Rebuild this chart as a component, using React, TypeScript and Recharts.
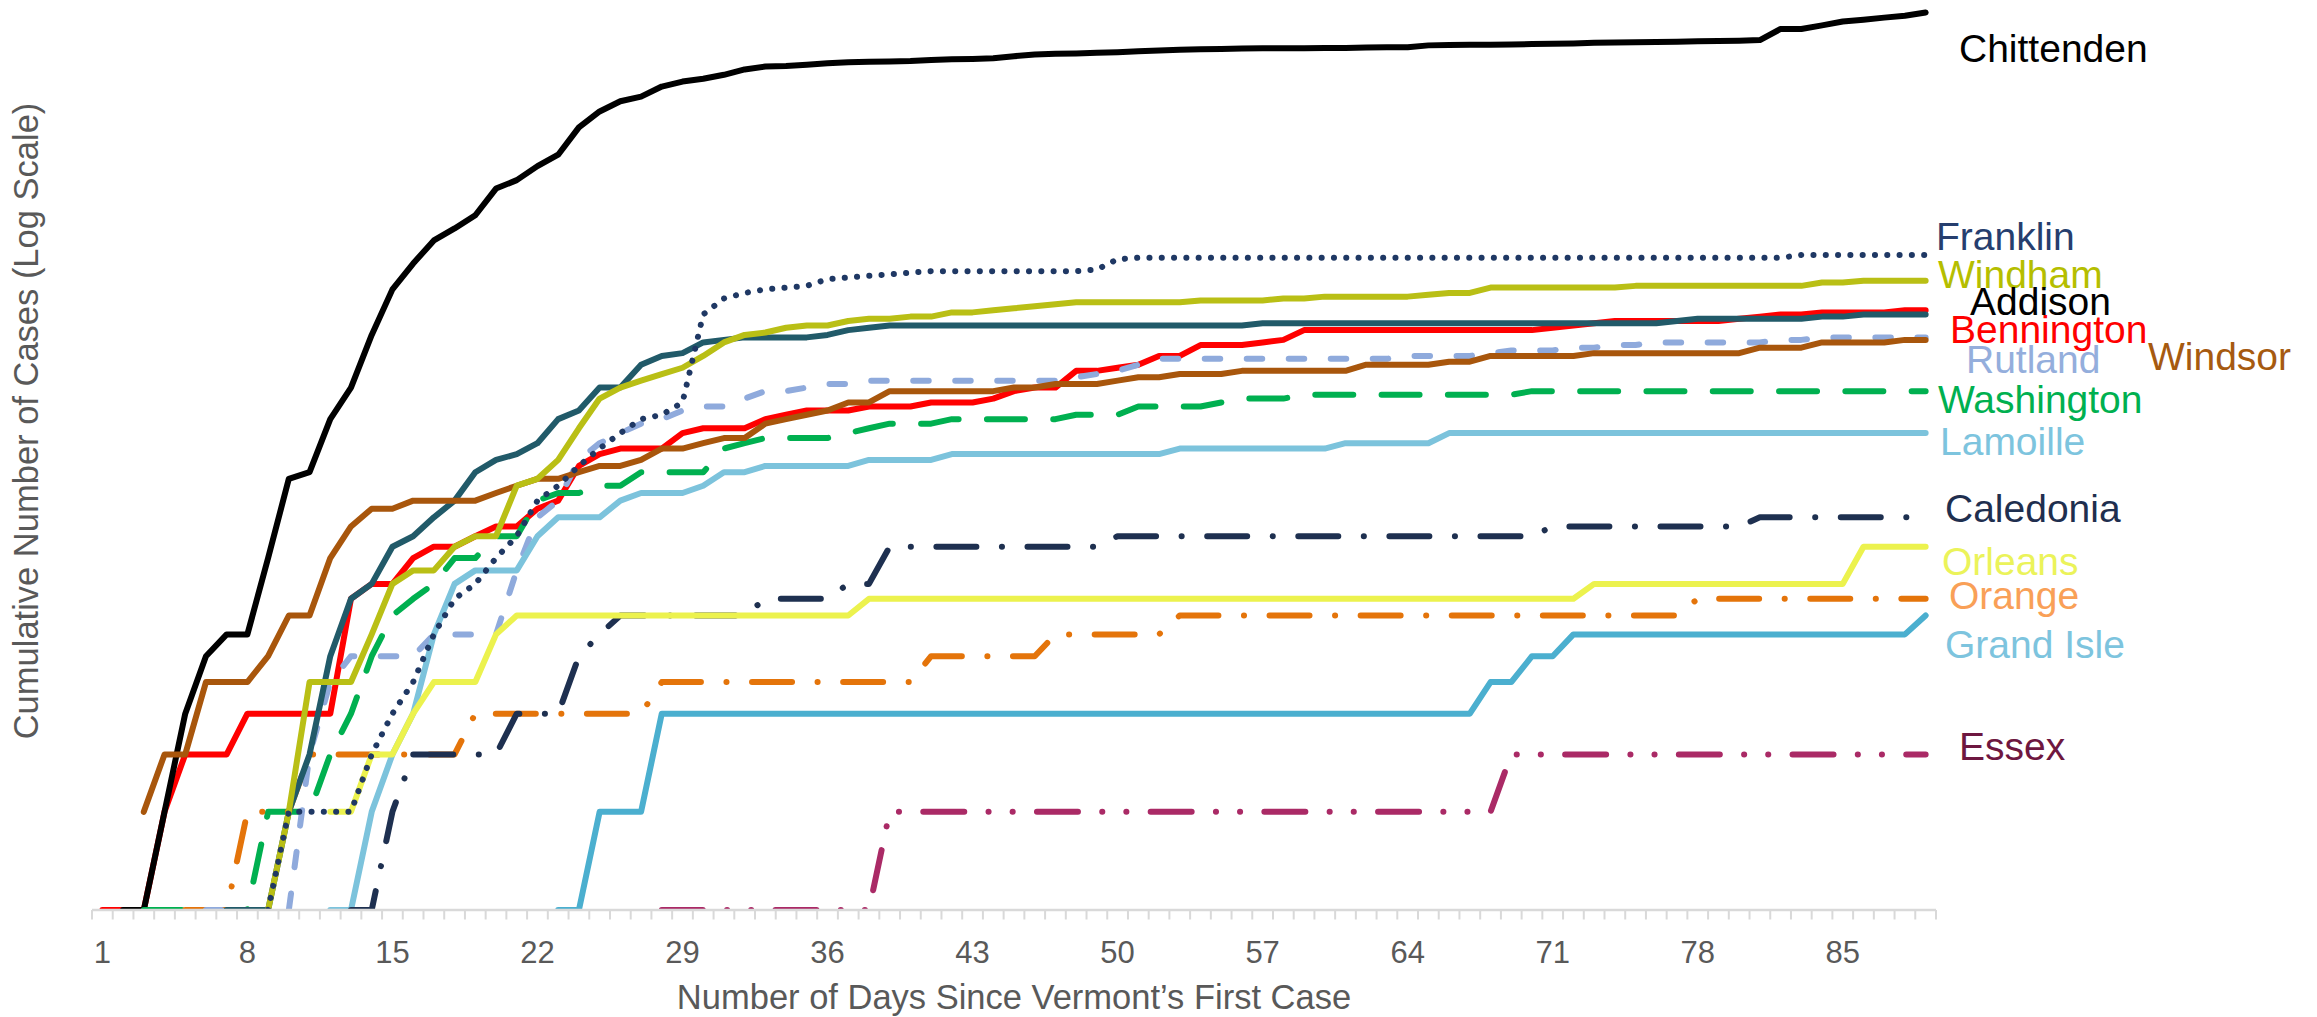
import React from 'react';
import { LineChart, Line, XAxis, YAxis } from 'recharts';

const days = [
  1, 2, 3, 4, 5, 6, 7, 8, 9, 10, 11, 12, 13, 14, 15, 16, 17, 18, 19, 20,
  21, 22, 23, 24, 25, 26, 27, 28, 29, 30, 31, 32, 33, 34, 35, 36, 37, 38, 39, 40,
  41, 42, 43, 44, 45, 46, 47, 48, 49, 50, 51, 52, 53, 54, 55, 56, 57, 58, 59, 60,
  61, 62, 63, 64, 65, 66, 67, 68, 69, 70, 71, 72, 73, 74, 75, 76, 77, 78, 79, 80,
  81, 82, 83, 84, 85, 86, 87, 88, 89,
];
const tickLabels = [1, 8, 15, 22, 29, 36, 43, 50, 57, 64, 71, 78, 85];

const bennington = [
  1, 1, 1, 2, 3, 3, 3, 4, 4, 4,
  4, 4, 9, 10, 10, 12, 13, 13, 14, 15,
  15, 17, 18, 23, 25, 26, 26, 26, 29, 30,
  30, 30, 32, 33, 34, 34, 34, 35, 35, 35,
  36, 36, 36, 37, 39, 40, 40, 45, 45, 46,
  47, 50, 50, 54, 54, 54, 55, 56, 60, 60,
  60, 60, 60, 60, 60, 60, 60, 60, 60, 60,
  61, 62, 63, 64, 64, 64, 64, 64, 64, 65,
  66, 67, 67, 68, 68, 68, 68, 69, 69,
];
const chittenden = [
  null, 1, 1, 2, 4, 6, 7, 7, 12, 21,
  22, 32, 40, 58, 80, 96, 113, 123, 135, 163,
  173, 191, 207, 251, 281, 302, 312, 335, 347, 354,
  364, 378, 386, 387, 391, 395, 398, 399, 400, 401,
  404, 406, 407, 409, 415, 420, 422, 423, 425, 427,
  430, 432, 434, 436, 437, 438, 439, 439, 439, 440,
  440, 441, 442, 442, 448, 449, 450, 450, 451, 452,
  453, 454, 456, 457, 458, 459, 460, 461, 462, 463,
  465, 503, 503, 516, 530, 537, 545, 552, 565,
];
const addison = [
  null, null, null, null, null, null, 1, 1, 1, 2,
  3, 6, 9, 10, 13, 14, 16, 18, 22, 24,
  25, 27, 32, 34, 40, 40, 47, 50, 51, 55,
  56, 57, 57, 57, 57, 58, 60, 61, 62, 62,
  62, 62, 62, 62, 62, 62, 62, 62, 62, 62,
  62, 62, 62, 62, 62, 62, 63, 63, 63, 63,
  63, 63, 63, 63, 63, 63, 63, 63, 63, 63,
  63, 63, 63, 63, 63, 63, 64, 65, 65, 65,
  65, 65, 65, 66, 66, 67, 67, 67, 67,
];
const windham = [
  null, null, null, null, null, null, null, null, 1, 2,
  5, 5, 5, 7, 10, 11, 11, 13, 14, 14,
  20, 21, 24, 30, 37, 40, 42, 44, 46, 50,
  55, 58, 59, 61, 62, 62, 64, 65, 65, 66,
  66, 68, 68, 69, 70, 71, 72, 73, 73, 73,
  73, 73, 73, 74, 74, 74, 74, 75, 75, 76,
  76, 76, 76, 76, 77, 78, 78, 81, 81, 81,
  81, 81, 81, 81, 82, 82, 82, 82, 82, 82,
  82, 82, 82, 84, 84, 85, 85, 85, 85,
];
const franklin = [
  null, null, null, null, null, null, null, null, 1, 2,
  2, 2, 2, 3, 4, 5, 7, 9, 10, 12,
  14, 18, 20, 23, 26, 29, 32, 33, 36, 67,
  75, 78, 80, 81, 82, 86, 87, 88, 89, 90,
  91, 91, 91, 91, 91, 91, 91, 91, 92, 99,
  100, 100, 100, 100, 100, 100, 100, 100, 100, 100,
  100, 100, 100, 100, 100, 100, 100, 100, 100, 100,
  100, 100, 100, 100, 100, 100, 100, 100, 100, 100,
  100, 100, 102, 102, 102, 102, 102, 102, 102,
];
const washington = [
  null, null, 1, 1, 1, 1, 1, 1, 2, 2,
  2, 3, 4, 6, 8, 9, 10, 12, 12, 14,
  14, 18, 19, 19, 20, 20, 22, 22, 22, 22,
  26, 27, 28, 28, 28, 28, 29, 30, 31, 31,
  31, 32, 32, 32, 32, 32, 32, 33, 33, 33,
  35, 35, 35, 35, 36, 37, 37, 37, 38, 38,
  38, 38, 38, 38, 38, 38, 38, 38, 38, 39,
  39, 39, 39, 39, 39, 39, 39, 39, 39, 39,
  39, 39, 39, 39, 39, 39, 39, 39, 39,
];
const orange = [
  null, null, null, null, 1, 1, 1, 2, 2, 2,
  3, 3, 3, 3, 3, 3, 3, 3, 4, 4,
  4, 4, 4, 4, 4, 4, 4, 5, 5, 5,
  5, 5, 5, 5, 5, 5, 5, 5, 5, 5,
  6, 6, 6, 6, 6, 6, 7, 7, 7, 7,
  7, 7, 8, 8, 8, 8, 8, 8, 8, 8,
  8, 8, 8, 8, 8, 8, 8, 8, 8, 8,
  8, 8, 8, 8, 8, 8, 8, 9, 9, 9,
  9, 9, 9, 9, 9, 9, 9, 9, 9,
];
const rutland = [
  null, null, null, null, null, 1, 1, 1, 1, 1,
  3, 5, 6, 6, 6, 6, 7, 7, 7, 7,
  11, 16, 18, 24, 27, 29, 31, 32, 34, 35,
  35, 37, 39, 39, 40, 41, 41, 42, 42, 42,
  42, 42, 42, 42, 42, 42, 42, 43, 44, 45,
  47, 49, 49, 49, 49, 49, 49, 49, 49, 49,
  49, 49, 49, 50, 50, 50, 50, 51, 52, 52,
  52, 53, 53, 54, 54, 55, 55, 55, 55, 55,
  55, 56, 56, 57, 57, 57, 57, 57, 57,
];
const windsor = [
  null, null, 2, 3, 3, 5, 5, 5, 6, 8,
  8, 12, 15, 17, 17, 18, 18, 18, 18, 19,
  20, 21, 21, 22, 23, 23, 24, 26, 26, 27,
  28, 28, 31, 32, 33, 34, 36, 36, 39, 39,
  39, 39, 39, 39, 40, 40, 41, 41, 41, 42,
  43, 43, 44, 44, 44, 45, 45, 45, 45, 45,
  45, 47, 47, 47, 47, 48, 48, 50, 50, 50,
  50, 50, 51, 51, 51, 51, 51, 51, 51, 51,
  53, 53, 53, 55, 55, 55, 55, 56, 56,
];
const lamoille = [
  null, null, null, null, null, null, null, null, null, null,
  null, 1, 1, 2, 3, 4, 7, 10, 11, 11,
  11, 14, 16, 16, 16, 18, 19, 19, 19, 20,
  22, 22, 23, 23, 23, 23, 23, 24, 24, 24,
  24, 25, 25, 25, 25, 25, 25, 25, 25, 25,
  25, 25, 26, 26, 26, 26, 26, 26, 26, 26,
  27, 27, 27, 27, 27, 29, 29, 29, 29, 29,
  29, 29, 29, 29, 29, 29, 29, 29, 29, 29,
  29, 29, 29, 29, 29, 29, 29, 29, 29,
];
const caledonia = [
  null, null, null, null, null, null, null, null, null, null,
  null, null, 1, 1, 2, 3, 3, 3, 3, 3,
  4, 4, 4, 6, 7, 8, 8, 8, 8, 8,
  8, 8, 9, 9, 9, 9, 10, 10, 13, 13,
  13, 13, 13, 13, 13, 13, 13, 13, 13, 14,
  14, 14, 14, 14, 14, 14, 14, 14, 14, 14,
  14, 14, 14, 14, 14, 14, 14, 14, 14, 14,
  15, 15, 15, 15, 15, 15, 15, 15, 15, 15,
  16, 16, 16, 16, 16, 16, 16, 16, 16,
];
const orleans = [
  null, null, null, null, null, null, null, null, null, null,
  null, 2, 2, 3, 3, 4, 5, 5, 5, 7,
  8, 8, 8, 8, 8, 8, 8, 8, 8, 8,
  8, 8, 8, 8, 8, 8, 8, 9, 9, 9,
  9, 9, 9, 9, 9, 9, 9, 9, 9, 9,
  9, 9, 9, 9, 9, 9, 9, 9, 9, 9,
  9, 9, 9, 9, 9, 9, 9, 9, 9, 9,
  9, 9, 10, 10, 10, 10, 10, 10, 10, 10,
  10, 10, 10, 10, 10, 13, 13, 13, 13,
];
const grandIsle = [
  null, null, null, null, null, null, null, null, null, null,
  null, null, null, null, null, null, null, null, null, null,
  null, null, 1, 1, 2, 2, 2, 4, 4, 4,
  4, 4, 4, 4, 4, 4, 4, 4, 4, 4,
  4, 4, 4, 4, 4, 4, 4, 4, 4, 4,
  4, 4, 4, 4, 4, 4, 4, 4, 4, 4,
  4, 4, 4, 4, 4, 4, 4, 5, 5, 6,
  6, 7, 7, 7, 7, 7, 7, 7, 7, 7,
  7, 7, 7, 7, 7, 7, 7, 7, 8,
];
const essex = [
  null, null, null, null, null, null, null, null, null, null,
  null, null, null, null, null, null, null, null, null, null,
  null, null, null, null, null, null, null, 1, 1, 1,
  1, 1, 1, 1, 1, 1, 1, 1, 2, 2,
  2, 2, 2, 2, 2, 2, 2, 2, 2, 2,
  2, 2, 2, 2, 2, 2, 2, 2, 2, 2,
  2, 2, 2, 2, 2, 2, 2, 2, 3, 3,
  3, 3, 3, 3, 3, 3, 3, 3, 3, 3,
  3, 3, 3, 3, 3, 3, 3, 3, 3,
];

const seriesValues: Record<string, (number | null)[]> = {
  bennington, chittenden, washington, orange, rutland, addison, windsor,
  lamoille, caledonia, orleans, grandIsle, essex, windham, franklin,
};

const data = days.map((d, i) => {
  const row: Record<string, number | null> = { day: d };
  Object.keys(seriesValues).forEach((k) => {
    row[k] = seriesValues[k][i];
  });
  return row;
});

// drawing order (later = on top)
const series = [
  { key: 'bennington', color: '#FF0000', dash: undefined },
  { key: 'chittenden', color: '#000000', dash: undefined },
  { key: 'washington', color: '#00B050', dash: '38 28.3' },
  { key: 'orange', color: '#E4740A', dash: '40 25.5 0.1 25.5' },
  { key: 'rutland', color: '#8FAADC', dash: '15.5 26.5' },
  { key: 'addison', color: '#215A69', dash: undefined },
  { key: 'windsor', color: '#A8560C', dash: undefined },
  { key: 'lamoille', color: '#7CC3DC', dash: undefined },
  { key: 'caledonia', color: '#1E3050', dash: '40 25.5 0.1 25.5' },
  { key: 'orleans', color: '#ECF24E', dash: undefined },
  { key: 'grandIsle', color: '#4BAFCF', dash: undefined },
  { key: 'essex', color: '#AA2A66', dash: '41 24.25 0.1 24 0.1 24.25' },
  { key: 'windham', color: '#B9BF15', dash: undefined },
  { key: 'franklin', color: '#1F3864', dash: '0.1 12.2' },
];

const labels = [
  { text: 'Chittenden', x: 1959, y: 62, color: '#000000' },
  { text: 'Franklin', x: 1936, y: 250, color: '#263E6E' },
  { text: 'Windham', x: 1938, y: 288, color: '#B5BE00' },
  { text: 'Addison', x: 1970, y: 315, color: '#000000' },
  { text: 'Bennington', x: 1950, y: 343, color: '#FF0000' },
  { text: 'Rutland', x: 1966, y: 373, color: '#94AEDC' },
  { text: 'Windsor', x: 2148, y: 370, color: '#A65A10' },
  { text: 'Washington', x: 1938, y: 413, color: '#00B050' },
  { text: 'Lamoille', x: 1940, y: 455, color: '#7DC4DE' },
  { text: 'Caledonia', x: 1945, y: 522, color: '#1F2F4F' },
  { text: 'Orleans', x: 1942, y: 575, color: '#EBF35A' },
  { text: 'Orange', x: 1949, y: 609, color: '#F9A057' },
  { text: 'Grand Isle', x: 1945, y: 658, color: '#7DC4DE' },
  { text: 'Essex', x: 1959, y: 760, color: '#6E1740' },
];

const FONT = "'Liberation Sans', Arial, sans-serif";
const boundaries = [0.5, ...days.map((d) => d + 0.5)];
const allTicks = [...boundaries, ...tickLabels].sort((a, b) => a - b);

const XTick = (props: any) => {
  const { x, y, payload } = props;
  const v = payload.value;
  if (tickLabels.includes(v)) {
    return (
      <text x={x} y={y + 53} textAnchor="middle" fontSize={31} fill="#595959" fontFamily={FONT}>
        {v}
      </text>
    );
  }
  return <line x1={x} x2={x} y1={y} y2={y + 9.5} stroke="#D9D9D9" strokeWidth={2} />;
};

export default function App() {
  return (
    <div style={{ position: 'absolute', left: 0, top: 0, width: 2317, height: 1017, background: '#fff' }}>
      <LineChart width={2317} height={1017} data={data} margin={{ top: 4, right: 381, bottom: 47, left: 92 }}>
        <XAxis
          dataKey="day"
          type="number"
          domain={[0.5, 89.5]}
          ticks={allTicks}
          interval={0}
          tick={(p: any) => <XTick {...p} />}
          tickLine={false}
          tickSize={0}
          tickMargin={0}
          axisLine={{ stroke: '#D9D9D9', strokeWidth: 2.5 }}
          height={60}
          allowDecimals
        />
        <YAxis hide type="number" scale="log" domain={[1, 600]} allowDataOverflow />
        {series.map((s) => (
          <Line
            key={s.key}
            dataKey={s.key}
            type="linear"
            stroke={s.color}
            strokeWidth={6}
            strokeDasharray={s.dash}
            strokeLinecap="round"
            strokeLinejoin="round"
            dot={false}
            activeDot={false}
            isAnimationActive={false}
          />
        ))}
      </LineChart>
      <svg width={2317} height={1017} style={{ position: 'absolute', left: 0, top: 0, pointerEvents: 'none' }}>
        {labels.map((l) => (
          <text key={l.text} x={l.x} y={l.y} fontSize={39} fill={l.color} fontFamily={FONT}>
            {l.text}
          </text>
        ))}
        <text x={1014} y={1009} textAnchor="middle" fontSize={34.5} fill="#595959" fontFamily={FONT}>
          Number of Days Since Vermont’s First Case
        </text>
        <text
          x={38}
          y={421}
          textAnchor="middle"
          fontSize={34.5}
          fill="#595959"
          fontFamily={FONT}
          transform="rotate(-90 38 421)"
        >
          Cumulative Number of Cases (Log Scale)
        </text>
      </svg>
    </div>
  );
}
